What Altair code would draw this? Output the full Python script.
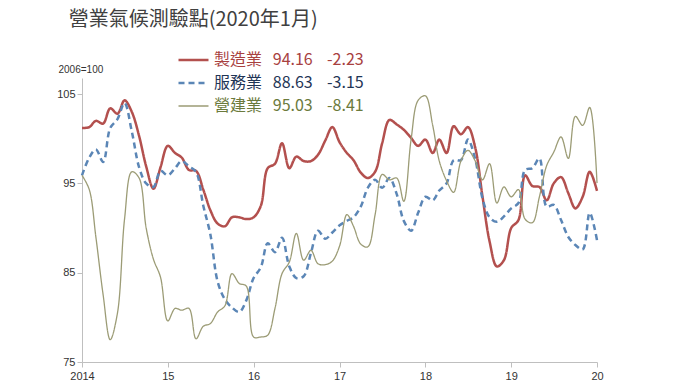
import altair as alt
import pandas as pd

series_names = ["製造業", "服務業", "營建業"]
latest = ["94.16", "88.63", "95.03"]
changes = ["-2.23", "-3.15", "-8.41"]

manufacturing = [
    101.2, 101.3, 102.0, 101.7, 103.4, 102.8, 104.3, 103.0, 100.3, 96.9, 94.4, 96.8,
    99.2, 98.4, 97.9, 96.5, 96.4, 94.3, 92.0, 90.5, 90.2, 91.2, 91.2, 91.0,
    91.2, 92.5, 96.7, 97.2, 99.5, 96.7, 98.0, 97.5, 97.5, 98.2, 99.8, 101.3,
    99.6, 98.4, 97.6, 96.2, 95.6, 96.3, 99.5, 102.1, 101.6, 101.0, 100.1, 99.2,
    99.9, 98.4, 99.9, 98.4, 101.4, 100.5, 101.3, 99.0, 93.5, 88.5, 85.7, 86.4,
    90.0, 90.9, 95.9, 94.7, 94.6, 93.1, 95.0, 95.7, 93.9, 92.2, 93.5, 96.3,
    94.16,
]
services = [
    95.9, 97.9, 98.8, 97.4, 101.2, 102.2, 104.0, 100.8, 96.8, 95.0, 94.6, 96.4,
    95.9, 96.7, 97.5, 96.9, 96.3, 92.5, 89.3, 84.0, 82.0, 81.1, 80.6, 81.9,
    84.4, 85.6, 88.3, 87.3, 88.9, 85.7, 84.4, 84.6, 87.2, 89.7, 88.8, 89.5,
    90.3, 90.8, 91.2, 92.4, 94.5, 95.4, 94.5, 95.6, 93.8, 90.8, 89.7, 91.7,
    93.5, 93.1, 94.2, 95.0, 97.6, 97.6, 99.9, 97.7, 93.3, 91.2, 90.7, 91.3,
    92.2, 92.8, 96.5, 96.7, 97.8, 92.4, 92.6, 90.9, 89.0, 88.1, 87.6, 91.7,
    88.63,
]
construction = [
    95.9, 94.3, 89.0, 82.5, 77.5, 80.5, 91.0, 96.3, 95.6, 90.0, 86.5, 84.5,
    79.6, 81.0, 80.8, 81.0, 77.6, 79.0, 79.3, 80.6, 81.3, 84.9, 83.8, 83.5,
    77.8, 77.8, 78.0, 81.0, 84.9, 86.2, 89.4, 86.4, 87.5, 86.0, 85.9, 86.3,
    88.0, 91.5, 90.2, 88.2, 87.9, 91.5, 96.0, 95.4, 95.6, 93.0, 99.9, 104.3,
    104.8, 101.5, 97.5, 95.3, 94.0, 97.5, 98.7, 97.5, 95.4, 97.2, 92.8, 94.6,
    93.5, 94.3, 91.0, 90.6, 93.5, 97.0, 98.5, 100.2, 97.8, 102.5, 101.5, 103.5,
    95.03,
]
year_ticks = [2014, 2015, 2016, 2017, 2018, 2019, 2020]
y_ticks = [75, 85, 95, 105]

months = pd.date_range("2014-01-01", periods=len(manufacturing), freq="MS")
rows = []
for name, vals in zip(series_names, [manufacturing, services, construction]):
    for d, v in zip(months, vals):
        rows.append({"date": d, "series": name, "value": v})
df = pd.DataFrame(rows)

sp1 = "\u00a0" * 3
sp2 = "\u00a0" * 4
label_map = {n: f"{n}{sp1}{a}{sp2}{c}" for n, a, c in zip(series_names, latest, changes)}
label_expr = " : ".join(
    [f"datum.label == '{n}' ? '{t}'" for n, t in label_map.items()]
) + " : datum.label"
label_color_expr = (
    "datum.label == '製造業' ? '#a8413f' : datum.label == '服務業' ? '#1f3556' : '#6b7a3c'"
)
symbol_width_expr = "datum.label == '營建業' ? 1.3 : 2.3"

chart = (
    alt.Chart(df)
    .mark_line(interpolate="catmull-rom")
    .encode(
        x=alt.X(
            "date:T",
            scale=alt.Scale(domain=[alt.DateTime(year=2014, month=1, date=1),
                                    alt.DateTime(year=2020, month=1, date=1)]),
            axis=alt.Axis(
                title=None,
                values=[alt.DateTime(year=y, month=1, date=1) for y in year_ticks],
                labelExpr="year(datum.value) == 2014 ? '2014' : timeFormat(datum.value, '%y')",
                labelFlush=False,
                grid=False,
                domainColor="#bfbfbf",
                tickColor="#bfbfbf",
                tickSize=5,
                labelFont="Liberation Sans",
                labelFontSize=11,
                labelColor="#333333",
                labelPadding=3,
            ),
        ),
        y=alt.Y(
            "value:Q",
            scale=alt.Scale(domain=[75, 106.8], nice=False, zero=False),
            axis=alt.Axis(
                title="2006=100",
                titleAngle=0,
                titleAlign="left",
                titleBaseline="bottom",
                titleX=-24,
                titleY=-4,
                titleFont="Liberation Sans",
                titleFontSize=10,
                titleFontWeight="normal",
                titleColor="#333333",
                values=y_ticks,
                labelFlush=False,
                grid=False,
                domainColor="#bfbfbf",
                tickColor="#bfbfbf",
                tickSize=5,
                labelFont="Liberation Sans",
                labelFontSize=11,
                labelColor="#333333",
                labelPadding=2,
            ),
        ),
        color=alt.Color(
            "series:N",
            scale=alt.Scale(domain=series_names, range=["#b3504e", "#5b86b6", "#9c9c76"]),
            legend=alt.Legend(
                title=None,
                orient="none",
                legendX=103.5,
                legendY=-26,
                symbolType="M-2,0H2",
                symbolSize=225,
                symbolStrokeWidth=alt.ExprRef(symbol_width_expr),
                labelExpr=label_expr,
                labelColor=alt.ExprRef(label_color_expr),
                labelFont="Noto Sans CJK TC",
                labelFontSize=16,
                labelOffset=12.5,
                rowPadding=7,
                labelLimit=400,
            ),
        ),
        strokeDash=alt.StrokeDash(
            "series:N",
            scale=alt.Scale(domain=series_names, range=[[1, 0], [6, 4], [1, 0]]),
            legend=None,
        ),
        strokeWidth=alt.condition(
            alt.datum.series == "營建業", alt.value(1.3), alt.value(2.5)
        ),
        order=alt.Order("series:N"),
    )
    .properties(
        width=515,
        height=284,
        padding={"left": 74, "top": 70, "right": 20, "bottom": 20},
        autosize=alt.AutoSizeParams(type="none"),
        title=alt.Title(
            "營業氣候測驗點(2020年1月)",
            anchor="start",
            dx=12,
            offset=22,
            font="Noto Sans CJK TC",
            fontSize=20,
            fontWeight="normal",
            color="#404040",
        ),
    )
    .configure_view(stroke=None)
)

chart.save("out.html", embed_options={"renderer": "svg", "actions": False})
